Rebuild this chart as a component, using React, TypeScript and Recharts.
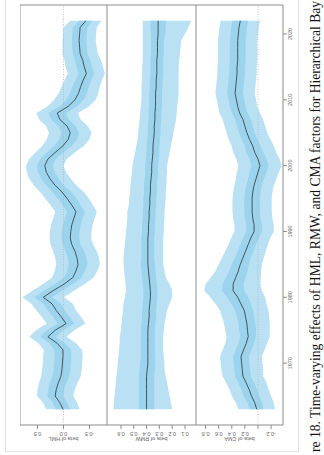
import React from "react";
import {
  ComposedChart,
  Area,
  Line,
  XAxis,
  YAxis,
  ReferenceLine,
  ReferenceArea,
  Label,
} from "recharts";

// the figure is a scanned page turned on its side: we draw it landscape and rotate it
const years = [
  1963, 1964, 1965, 1966, 1967, 1968, 1969, 1970, 1971, 1972, 1973, 1974, 1975, 1976, 1977,
  1978, 1979, 1980, 1981, 1982, 1983, 1984, 1985, 1986, 1987, 1988, 1989, 1990, 1991, 1992,
  1993, 1994, 1995, 1996, 1997, 1998, 1999, 2000, 2001, 2002, 2003, 2004, 2005, 2006, 2007,
  2008, 2009, 2010, 2011, 2012, 2013, 2014, 2015, 2016, 2017, 2018, 2019, 2020, 2021, 2022,
];
const yearTicks = [1970, 1980, 1990, 2000, 2010, 2020];

// HML loading: posterior mean, half-width of outer and inner bands
const hmlMean = [
  0.01, 0.07, 0.16, 0.14, 0.1, 0.05, 0.03, 0.02, 0.01, 0.01, 0.12, 0.3, 0.16, -0.05, 0.04,
  0.14, 0.22, 0.39, 0.2, -0.01, -0.18, -0.24, -0.28, -0.26, -0.22, -0.16, -0.13, -0.14, -0.16, -0.2,
  -0.24, -0.16, -0.07, 0.03, 0.16, 0.26, 0.33, 0.36, 0.3, 0.16, 0.01, -0.09, -0.13, -0.07, 0.07,
  0.12, -0.09, -0.22, -0.29, -0.33, -0.38, -0.44, -0.4, -0.37, -0.32, -0.31, -0.3, -0.31, -0.32, -0.43,
];
const hmlOuter = [
  0.32, 0.33, 0.35, 0.36, 0.37, 0.38, 0.38, 0.38, 0.38, 0.37, 0.36, 0.36, 0.37, 0.37, 0.38,
  0.38, 0.4, 0.4, 0.4, 0.4, 0.4, 0.41, 0.42, 0.42, 0.42, 0.41, 0.4, 0.4, 0.4, 0.4,
  0.4, 0.41, 0.42, 0.42, 0.41, 0.4, 0.38, 0.36, 0.36, 0.38, 0.4, 0.41, 0.41, 0.4, 0.4,
  0.4, 0.4, 0.4, 0.38, 0.37, 0.36, 0.36, 0.36, 0.35, 0.34, 0.33, 0.32, 0.32, 0.32, 0.3,
];
const hmlInner = [
  0.14, 0.14, 0.15, 0.15, 0.16, 0.16, 0.16, 0.16, 0.16, 0.16, 0.15, 0.15, 0.16, 0.16, 0.16,
  0.16, 0.17, 0.17, 0.17, 0.17, 0.17, 0.17, 0.18, 0.18, 0.18, 0.17, 0.17, 0.17, 0.17, 0.17,
  0.17, 0.17, 0.18, 0.18, 0.17, 0.17, 0.16, 0.15, 0.15, 0.16, 0.17, 0.17, 0.17, 0.17, 0.17,
  0.17, 0.17, 0.17, 0.16, 0.16, 0.15, 0.15, 0.15, 0.15, 0.14, 0.14, 0.14, 0.14, 0.14, 0.13,
];

// RMW loading: mean, outer band low/high, inner half-width
const rmwMean = [
  0.4, 0.4, 0.4, 0.4, 0.4, 0.4, 0.395, 0.39, 0.39, 0.39, 0.39, 0.39, 0.39, 0.385, 0.38,
  0.38, 0.375, 0.37, 0.37, 0.375, 0.38, 0.385, 0.39, 0.39, 0.39, 0.39, 0.39, 0.385, 0.385, 0.38,
  0.38, 0.375, 0.375, 0.37, 0.37, 0.365, 0.36, 0.36, 0.355, 0.35, 0.35, 0.345, 0.34, 0.34, 0.335,
  0.335, 0.33, 0.33, 0.33, 0.325, 0.325, 0.32, 0.32, 0.32, 0.315, 0.315, 0.315, 0.31, 0.31, 0.31,
];
const rmwLow = [
  0.2, 0.21, 0.22, 0.23, 0.24, 0.25, 0.26, 0.26, 0.265, 0.27, 0.27, 0.27, 0.265, 0.26, 0.25,
  0.24, 0.22, 0.2, 0.2, 0.22, 0.25, 0.26, 0.27, 0.27, 0.27, 0.27, 0.27, 0.265, 0.265, 0.26,
  0.26, 0.255, 0.25, 0.25, 0.245, 0.245, 0.24, 0.24, 0.23, 0.22, 0.21, 0.2, 0.19, 0.18, 0.17,
  0.165, 0.16, 0.155, 0.15, 0.15, 0.15, 0.15, 0.15, 0.145, 0.14, 0.135, 0.13, 0.1, 0.075, 0.05,
];
const rmwHigh = [
  0.66, 0.655, 0.65, 0.645, 0.64, 0.635, 0.63, 0.625, 0.62, 0.615, 0.61, 0.61, 0.6, 0.595, 0.59,
  0.585, 0.58, 0.57, 0.56, 0.565, 0.57, 0.575, 0.58, 0.58, 0.575, 0.57, 0.565, 0.56, 0.555, 0.55,
  0.55, 0.54, 0.535, 0.53, 0.525, 0.52, 0.515, 0.51, 0.5, 0.49, 0.48, 0.47, 0.465, 0.46, 0.455,
  0.45, 0.445, 0.44, 0.44, 0.44, 0.435, 0.435, 0.435, 0.43, 0.43, 0.43, 0.43, 0.43, 0.43, 0.43,
];
const rmwInner = [
  0.06, 0.06, 0.06, 0.06, 0.06, 0.06, 0.06, 0.06, 0.055, 0.055, 0.055, 0.055, 0.055, 0.055, 0.055,
  0.055, 0.055, 0.055, 0.055, 0.055, 0.055, 0.055, 0.055, 0.05, 0.05, 0.05, 0.05, 0.05, 0.05, 0.05,
  0.05, 0.05, 0.05, 0.05, 0.05, 0.05, 0.05, 0.05, 0.05, 0.05, 0.05, 0.05, 0.05, 0.05, 0.05,
  0.05, 0.05, 0.05, 0.05, 0.05, 0.05, 0.05, 0.05, 0.05, 0.05, 0.05, 0.05, 0.055, 0.06, 0.06,
];

// CMA loading: mean, outer and inner half-widths
const cmaMean = [
  0.02, 0.05, 0.1, 0.135, 0.18, 0.23, 0.24, 0.25, 0.26, 0.22, 0.18, 0.15, 0.16, 0.17, 0.19,
  0.21, 0.26, 0.31, 0.38, 0.38, 0.34, 0.3, 0.27, 0.23, 0.19, 0.15, 0.11, 0.06, 0.06, 0.08,
  0.09, 0.09, 0.09, 0.08, 0.06, 0.03, 0.0, -0.03, 0.0, 0.05, 0.08, 0.13, 0.17, 0.2, 0.23,
  0.28, 0.31, 0.33, 0.35, 0.34, 0.33, 0.32, 0.32, 0.31, 0.31, 0.31, 0.31, 0.3, 0.29, 0.27,
];
const cmaOuter = [
  0.28, 0.29, 0.3, 0.3, 0.31, 0.31, 0.32, 0.32, 0.32, 0.32, 0.32, 0.33, 0.34, 0.35, 0.36,
  0.37, 0.39, 0.42, 0.44, 0.42, 0.38, 0.35, 0.33, 0.32, 0.31, 0.3, 0.3, 0.3, 0.3, 0.3,
  0.3, 0.3, 0.3, 0.3, 0.3, 0.31, 0.32, 0.33, 0.33, 0.33, 0.32, 0.32, 0.31, 0.31, 0.31,
  0.31, 0.3, 0.3, 0.3, 0.3, 0.3, 0.3, 0.3, 0.3, 0.3, 0.3, 0.3, 0.3, 0.3, 0.3,
];
const cmaInner = [
  0.11, 0.11, 0.12, 0.12, 0.12, 0.12, 0.12, 0.12, 0.12, 0.12, 0.12, 0.12, 0.13, 0.13, 0.13,
  0.14, 0.15, 0.16, 0.17, 0.16, 0.15, 0.14, 0.13, 0.12, 0.12, 0.12, 0.12, 0.12, 0.12, 0.12,
  0.12, 0.12, 0.12, 0.12, 0.12, 0.12, 0.13, 0.13, 0.13, 0.13, 0.12, 0.12, 0.12, 0.12, 0.12,
  0.12, 0.12, 0.12, 0.12, 0.12, 0.12, 0.12, 0.12, 0.12, 0.12, 0.12, 0.12, 0.12, 0.12, 0.12,
];

const YEAR_DOMAIN: [number, number] = [1960.6, 2024.4];
const OUTER = "#b9e1f3";
const INNER = "#9bd4ec";
const LINE = "#44545d";
const FRAME = "#8c8c8c";
const TICK = "#666";
const FONT = "'Liberation Sans', Arial, sans-serif";

function buildRows(mean: number[], low: number[], high: number[], inner: number[]) {
  return years.map((year, i) => ({
    year,
    mean: mean[i],
    outer: [low[i], high[i]],
    inner: [mean[i] - inner[i], mean[i] + inner[i]],
  }));
}

const hmlRows = buildRows(
  hmlMean,
  hmlMean.map((m, i) => m - hmlOuter[i]),
  hmlMean.map((m, i) => m + hmlOuter[i]),
  hmlInner
);
const rmwRows = buildRows(rmwMean, rmwLow, rmwHigh, rmwInner);
const cmaRows = buildRows(
  cmaMean,
  cmaMean.map((m, i) => m - cmaOuter[i]),
  cmaMean.map((m, i) => m + cmaOuter[i]),
  cmaInner
);

// y tick labels run along the axis, like R's default
function BetaTick(props: any) {
  const { x, y, payload, hideZero } = props;
  if (hideZero && payload.value === 0) return null;
  return (
    <text
      x={x}
      y={y}
      transform={`rotate(-90 ${x} ${y})`}
      textAnchor="middle"
      fontSize={5.5}
      fontFamily={FONT}
      fill={TICK}
    >
      {Number(payload.value).toFixed(1)}
    </text>
  );
}

function AxisTitle(props: any) {
  const { viewBox, text } = props;
  const x = (viewBox?.x ?? 0) + 18;
  const y = (viewBox?.y ?? 0) + (viewBox?.height ?? 0) / 2;
  return (
    <text
      x={x}
      y={y}
      transform={`rotate(-90 ${x} ${y})`}
      textAnchor="middle"
      fontSize={5.5}
      fontFamily={FONT}
      fill={TICK}
    >
      {text}
    </text>
  );
}

interface PanelProps {
  rows: any[];
  domain: [number, number];
  ticks: number[];
  title: string;
  top: number;
  height: number;
  showYears?: boolean;
  zeroLine?: boolean;
  hideZero?: boolean;
}

function Panel({ rows, domain, ticks, title, top, height, showYears, zeroLine, hideZero }: PanelProps) {
  return (
    <div style={{ position: "absolute", left: 0, top }}>
      <ComposedChart
        width={455}
        height={height}
        data={rows}
        margin={{ top: 0, right: 5, bottom: 0, left: 0 }}
      >
        <XAxis
          type="number"
          dataKey="year"
          domain={YEAR_DOMAIN}
          allowDataOverflow
          ticks={yearTicks}
          interval={0}
          hide={!showYears}
          height={17}
          axisLine={false}
          tickLine={{ stroke: FRAME }}
          tickSize={4}
          tickMargin={1}
          tick={{ fontSize: 5.5, fill: TICK, fontFamily: FONT }}
        />
        <YAxis
          type="number"
          domain={domain}
          allowDataOverflow
          ticks={ticks}
          interval={0}
          width={30}
          axisLine={false}
          tickLine={{ stroke: FRAME }}
          tickSize={4}
          tickMargin={3}
          tick={(p: any) => <BetaTick {...p} hideZero={hideZero} />}
        >
          <Label content={<AxisTitle text={title} />} />
        </YAxis>
        {zeroLine && (
          <ReferenceLine y={0} stroke="#b5b5b5" strokeDasharray="1 1.5" strokeWidth={0.8} />
        )}
        <Area
          type="linear"
          dataKey="outer"
          stroke="none"
          fill={OUTER}
          fillOpacity={1}
          isAnimationActive={false}
        />
        <Area
          type="linear"
          dataKey="inner"
          stroke="none"
          fill={INNER}
          fillOpacity={1}
          isAnimationActive={false}
        />
        <Line
          type="linear"
          dataKey="mean"
          stroke={LINE}
          strokeWidth={1}
          dot={false}
          isAnimationActive={false}
        />
        <ReferenceArea
          x1={YEAR_DOMAIN[0]}
          x2={YEAR_DOMAIN[1]}
          y1={domain[0]}
          y2={domain[1]}
          fill="none"
          stroke={FRAME}
          strokeWidth={1}
          ifOverflow="visible"
        />
      </ComposedChart>
    </div>
  );
}

export default function App() {
  return (
    <div
      style={{
        position: "absolute",
        left: 0,
        top: 0,
        width: 324,
        height: 455,
        overflow: "hidden",
        background: "#fff",
      }}
    >
      <div
        style={{
          position: "absolute",
          left: 0,
          top: 0,
          width: 455,
          height: 324,
          transformOrigin: "0 0",
          transform: "translateY(455px) rotate(-90deg)",
        }}
      >
        <div
          style={{
            position: "absolute",
            left: 3,
            top: 5,
            width: 470,
            height: 292,
            border: "1px solid #e2e2e2",
          }}
        />
        <Panel
          rows={hmlRows}
          domain={[-0.837, 0.837]}
          ticks={[-0.5, 0, 0.5]}
          title="beta of HML"
          top={20}
          height={87}
          zeroLine
        />
        <Panel
          rows={rmwRows}
          domain={[0.014, 0.709]}
          ticks={[0.1, 0.2, 0.3, 0.4, 0.5, 0.6]}
          title="beta of RMW"
          top={107}
          height={89}
        />
        <Panel
          rows={cmaRows}
          domain={[-0.382, 0.947]}
          ticks={[-0.2, 0, 0.2, 0.4, 0.6, 0.8]}
          title="beta of CMA"
          top={196}
          height={104}
          showYears
          zeroLine
          hideZero
        />
        {/* only the part of the caption that is on the page */}
        <div
          style={{
            position: "absolute",
            left: 3,
            top: 309,
            whiteSpace: "nowrap",
            fontFamily: "'Liberation Serif', 'Times New Roman', serif",
            fontSize: 13.6,
            lineHeight: "13.6px",
            color: "#111",
          }}
        >
          re 18. Time-varying effects of HML, RMW, and CMA factors for Hierarchical Bay
        </div>
      </div>
    </div>
  );
}
